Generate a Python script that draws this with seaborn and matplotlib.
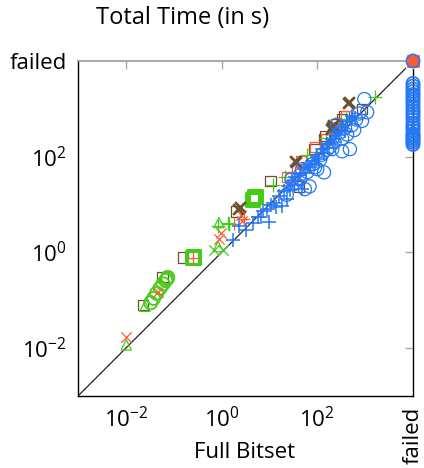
import numpy as np
import pandas as pd
import seaborn as sns
import matplotlib
matplotlib.use("Agg")
import matplotlib.pyplot as plt

sns.set_style("white")
plt.rcParams['font.family'] = ['Open Sans', 'DejaVu Sans']
plt.rcParams['mathtext.fontset'] = 'custom'
plt.rcParams['mathtext.rm'] = 'Open Sans'
plt.rcParams['mathtext.it'] = 'Open Sans:italic'
plt.rcParams['mathtext.sf'] = 'Open Sans'
plt.rcParams['text.color'] = 'black'
plt.rcParams['xtick.labelcolor'] = 'black'
plt.rcParams['ytick.labelcolor'] = 'black'

FAILED = 1e4

# data (seconds), failed runs placed at FAILED
brown_sq_x = [0.023, 0.058, 0.155, 2.0, 10.5, 41, 88, 138, 145, 250, 330, 360, 860]
brown_sq_y = [0.081, 0.31, 0.78, 7.2, 31, 24, 144, 236, 270, 480, 620, 700, 1000]

brown_x_x = [2.4, 2.2, 34, 36, 190, 205, 215, 440, 460]
brown_x_y = [9, 8, 81, 76, 380, 420, 450, 1300, 1380]

red_x_x = [0.0102, 0.046, 0.88, 0.95, 2.5, 2.7, 40]
red_x_y = [0.017, 0.15, 1.87, 2.5, 6, 4.5, 60]

red_plus_x = [0.25, 1.8, 3.0, 30]
red_plus_y = [0.78, 4.0, 5.0, 45]

red_sq_x = [23, 45, 90, 150, 230, 400]
red_sq_y = [38, 80, 160, 230, 420, 700]
red_failed_x = [FAILED]
red_failed_y = [FAILED]

green_tri_x = [0.0102, 0.025, 0.88, 0.85]
green_tri_y = [0.0117, 0.075, 4.2, 1.33]

green_plus_x = [0.86, 1.37, 1.45, 12, 21, 60, 150, 400, 1630]
green_plus_y = [3.5, 4.2, 3.9, 26, 37, 110, 250, 600, 1770]

green_x_x = [0.7, 1.07]
green_x_y = [1.15, 1.15]

green_circ_x = [0.033, 0.038, 0.044, 0.052, 0.060, 0.068, 0.072, 0.075]
green_circ_y = [0.089, 0.11, 0.14, 0.18, 0.22, 0.26, 0.28, 0.30]

green_sq_x = [0.25, 0.26, 4.5, 4.8, 5.2]
green_sq_y = [0.78, 0.80, 13, 14.8, 15]

blue_plus_x = [1.74, 2.3, 3.2, 4.6, 5.9, 6.7, 7.5, 8.7, 10, 11, 12.6, 14, 16, 18, 20, 23, 25,
               27, 29, 32, 35, 40, 44, 47, 53, 58, 64, 70, 78, 88, 98, 110, 124, 140, 156,
               175, 200, 225, 250, 290, 330, 380, 420, 530, 600]
blue_plus_y = [1.78, 3.5, 3.0, 4.2, 5.4, 5.6, 7.2, 7.9, 4.4, 10, 11, 9, 15, 9.2, 19, 13, 25,
               20, 31, 26, 37, 33, 43, 21, 55, 45, 67, 60, 81, 70, 98, 90, 142, 120, 180,
               150, 236, 200, 330, 280, 420, 350, 560, 700, 640]

blue_circ_x = [23, 29, 35, 44, 48, 55, 62, 69, 80, 90, 100, 115, 125, 138, 160, 180, 205,
               230, 260, 290, 330, 330, 380, 420, 480, 520, 590, 650, 750, 860, 960, 1100]
blue_circ_y = [16, 34, 28, 34, 55, 21, 48, 24, 70, 60, 55, 87, 110, 47, 140, 157, 144,
               200, 470, 320, 240, 130, 400, 290, 144, 450, 360, 600, 800, 560, 1600, 850]

# runs where only Full Bitset failed
blue_failed_y = [180, 200, 220, 240, 260, 280, 300, 350, 400, 450, 500, 600, 700, 800, 900,
                 1050, 1200, 1400, 1600, 1800, 2000, 2300, 2600, 3000, 3400, FAILED]
blue_failed_x = [FAILED] * len(blue_failed_y)

brown = '#6e4f2c'
red = '#ff5a36'
green = '#45cc1a'
blue = '#2477f5'

fig = plt.figure(figsize=(4.24, 4.68), dpi=100)
ax = fig.add_axes([78 / 424, 1 - 396 / 468, 335 / 424, 335 / 468])

ax.plot([1e-3, FAILED], [1e-3, FAILED], color='#222222', lw=0.9, zorder=1)

def pts(xs, ys, marker, color, s=55, lw=0.9, open_=False):
    df = pd.DataFrame({'x': xs, 'y': ys})
    if open_:
        sns.scatterplot(data=df, x='x', y='y', ax=ax, marker=marker, s=s,
                        facecolors='none', edgecolor=color, linewidth=lw,
                        clip_on=False, zorder=3)
    else:
        sns.scatterplot(data=df, x='x', y='y', ax=ax, marker=marker, s=s,
                        color=color, linewidth=lw, clip_on=False, zorder=3)

pts(brown_sq_x, brown_sq_y, 's', brown, open_=True)
pts(red_sq_x, red_sq_y, 's', red, open_=True)
pts(red_failed_x, red_failed_y, 's', red, s=110)
pts(green_tri_x, green_tri_y, '^', green, open_=True)
pts(green_circ_x, green_circ_y, 'o', green, s=90, lw=1.3, open_=True)
pts(green_sq_x, green_sq_y, 's', green, s=90, lw=2.2, open_=True)
pts(red_x_x, red_x_y, 'x', red)
pts(red_plus_x, red_plus_y, '+', red, s=80)
pts(green_plus_x, green_plus_y, '+', green, s=90)
pts(green_x_x, green_x_y, 'x', green)
pts(brown_x_x, brown_x_y, 'x', brown, s=60, lw=1.8)
pts(blue_plus_x, blue_plus_y, '+', blue, s=100, lw=1.1)
pts(blue_circ_x, blue_circ_y, 'o', blue, s=90, open_=True)
pts(blue_failed_x, blue_failed_y, 'o', blue, s=90, lw=1.2, open_=True)

ax.set_xscale('log')
ax.set_yscale('log')
ax.set_xlim(1e-3, FAILED)
ax.set_ylim(1e-3, FAILED)
ax.set_xticks([1e-2, 1, 1e2, FAILED])
ax.set_xticklabels(['$10^{-2}$', '$10^{0}$', '$10^{2}$', 'failed'], fontsize=16)
ax.set_yticks([1e-2, 1, 1e2, FAILED])
ax.set_yticklabels(['$10^{-2}$', '$10^{0}$', '$10^{2}$', 'failed'], fontsize=16)
ax.get_xticklabels()[-1].set_rotation(90)
ax.get_xticklabels()[-1].set_va('top')
ax.minorticks_off()
ax.tick_params(direction='in', length=6, width=1, color='#aaaaaa',
               top=True, right=True, pad=8)
for side in ['left', 'bottom', 'right']:
    ax.spines[side].set_color('black')
    ax.spines[side].set_linewidth(1)
ax.spines['top'].set_color('#999999')
ax.spines['top'].set_linewidth(1.2)
ax.set_xlabel('')
ax.set_ylabel('')
fig.text(245 / 424, 1 - 453 / 468, 'Full Bitset', fontsize=16,
         ha='center', va='center')
fig.text(183 / 424, 1 - 18 / 468, 'Total Time (in s)', fontsize=17,
         ha='center', va='center')

fig.savefig('out.png', dpi=100)
